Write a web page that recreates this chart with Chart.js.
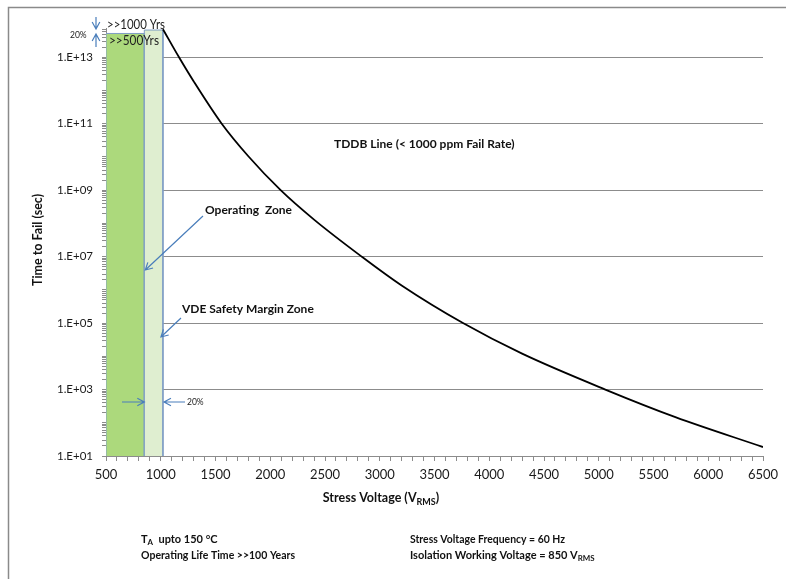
<!DOCTYPE html>
<html>
<head>
<meta charset="utf-8">
<script src="https://cdn.jsdelivr.net/npm/chart.js@4.4.1/dist/chart.umd.min.js"></script>
<style>
  html, body { margin: 0; padding: 0; background: #fff; }
</style>
</head>
<body>
<canvas id="tddb-chart" width="786" height="579"></canvas>
<script>
// TDDB curve (V_RMS vs seconds)
const voltage = [1020, 1167, 1300, 1557, 1800, 2095, 2400, 2835, 3200, 3760, 4300, 5060, 5700, 6500];
const timeToFail = [7e13, 1e13, 1.9e12, 1e11, 1.05e10, 1e9, 1.3e8, 1e7, 1.35e6, 1e5, 1.2e4, 1e3, 148, 18.6];

// shaded zones: operating zone and VDE safety margin
const zoneNames = ["Operating Zone", "VDE Safety Margin Zone"];
const zoneFrom = [500, 850];
const zoneTo = [850, 1020];
const zoneTop = [5.2e13, 6.6e13];

const xTickLabels = [500, 1000, 1500, 2000, 2500, 3000, 3500, 4000, 4500, 5000, 5500, 6000, 6500];
const yTickValues = [1e1, 1e3, 1e5, 1e7, 1e9, 1e11, 1e13];
const yTickLabels = ["1.E+01", "1.E+03", "1.E+05", "1.E+07", "1.E+09", "1.E+11", "1.E+13"];

const FONT = "Lato, 'Open Sans', sans-serif";
const AXIS_GRAY = "#8c8c8c";
const ARROW_BLUE = "#4a7ebb";

function zonePoints(i) {
  return [
    { x: zoneFrom[i], y: 10 },
    { x: zoneFrom[i], y: zoneTop[i] },
    { x: zoneTo[i], y: zoneTop[i] },
    { x: zoneTo[i], y: 10 },
  ];
}

function put(ctx, str, x, y, size, bold, align, maxW) {
  ctx.font = (bold ? "bold " : "") + size + "px " + FONT;
  ctx.textAlign = align || "left";
  ctx.textBaseline = "middle";
  if (maxW) ctx.fillText(str, x, y, maxW);
  else ctx.fillText(str, x, y);
}

// text runs with subscripts: [[text, isSub], ...]
function putRuns(ctx, runs, x, y, size, bold, align) {
  const w = runs.map(([t, sub]) => {
    ctx.font = (bold ? "bold " : "") + (sub ? size * 0.72 : size) + "px " + FONT;
    return ctx.measureText(t).width;
  });
  const total = w.reduce((a, b) => a + b, 0);
  let cx = align === "center" ? x - total / 2 : x;
  runs.forEach(([t, sub], i) => {
    put(ctx, t, cx, sub ? y + size * 0.3 : y, sub ? size * 0.72 : size, bold, "left");
    cx += w[i];
  });
}

function arrow(ctx, x1, y1, x2, y2) {
  const a = Math.atan2(y2 - y1, x2 - x1);
  const h = 8, s = 0.5;
  ctx.beginPath();
  ctx.moveTo(x1, y1);
  ctx.lineTo(x2, y2);
  ctx.moveTo(x2 - h * Math.cos(a - s), y2 - h * Math.sin(a - s));
  ctx.lineTo(x2, y2);
  ctx.lineTo(x2 - h * Math.cos(a + s), y2 - h * Math.sin(a + s));
  ctx.stroke();
}

const overlay = {
  id: "overlay",
  beforeDraw(chart) {
    const ctx = chart.ctx;
    ctx.save();
    ctx.fillStyle = "#fff";
    ctx.fillRect(0, 0, chart.width, chart.height);
    ctx.strokeStyle = "#8a8a8a";
    ctx.lineWidth = 1.5;
    ctx.strokeRect(8.5, 7.5, 900, 700);
    ctx.restore();
  },
  afterDraw(chart) {
    const ctx = chart.ctx;
    const xs = chart.scales.x;
    ctx.save();
    ctx.fillStyle = "#111";

    // axis titles
    ctx.save();
    ctx.translate(38, 240);
    ctx.rotate(-Math.PI / 2);
    put(ctx, "Time to Fail (sec)", 0, 0, 12.5, true, "center", 104);
    ctx.restore();
    putRuns(ctx, [["Stress Voltage (V", false], ["RMS", true], [")", false]], 381, 498, 12.5, true, "center");

    // annotations in the plot
    put(ctx, "TDDB Line (< 1000 ppm Fail Rate)", 334, 144, 12, true, "left", 184);
    put(ctx, "Operating  Zone", 205, 210, 12, true, "left", 88);
    put(ctx, "VDE Safety Margin Zone", 182, 309, 12, true, "left", 133);
    ctx.fillStyle = "#222";
    put(ctx, ">>1000 Yrs", 107, 25, 12.5, false, "left", 58);
    put(ctx, ">>500Yrs", 109, 41, 13, false, "left", 50);
    put(ctx, "20%", 70, 35, 8.5, false, "left");
    put(ctx, "20%", 187, 402, 8.5, false, "left");

    // arrows
    ctx.strokeStyle = ARROW_BLUE;
    ctx.lineWidth = 1.2;
    const xOp = xs.getPixelForValue(zoneTo[0]);
    const xVde = xs.getPixelForValue(zoneTo[1]);
    arrow(ctx, 203, 216, xOp + 1, 270);
    arrow(ctx, 181, 318, xVde - 2, 337);
    arrow(ctx, 122, 402, xOp, 402);
    arrow(ctx, 185, 402, xVde + 1, 402);
    arrow(ctx, 96, 17, 96, 29);
    arrow(ctx, 96, 47, 96, 34);

    // notes under the chart
    ctx.fillStyle = "#111";
    putRuns(ctx, [["T", false], ["A", true], ["  upto 150 \u00B0C", false]], 141, 539, 11, true, "left");
    put(ctx, "Operating Life Time >>100 Years", 141, 555, 11, true, "left", 154);
    put(ctx, "Stress Voltage Frequency = 60 Hz", 410, 539, 11, true, "left", 155);
    putRuns(ctx, [["Isolation Working Voltage = 850 V", false], ["RMS", true]], 410, 555, 11, true, "left");
    ctx.restore();
  },
};

Chart.defaults.font.family = FONT;

const ctx = document.getElementById("tddb-chart").getContext("2d");
new Chart(ctx, {
  type: "scatter",
  data: {
    datasets: [
      {
        label: "TDDB Line",
        data: voltage.map((v, i) => ({ x: v, y: timeToFail[i] })),
        showLine: true,
        borderColor: "#000",
        borderWidth: 1.8,
        pointRadius: 0,
        cubicInterpolationMode: "monotone",
        fill: false,
        order: 0,
      },
      {
        label: zoneNames[1],
        data: zonePoints(1),
        showLine: true,
        borderColor: "#7f9dc4",
        borderWidth: 1,
        backgroundColor: "#dfeed0",
        pointRadius: 0,
        fill: "start",
        order: 1,
      },
      {
        label: zoneNames[0],
        data: zonePoints(0),
        showLine: true,
        borderColor: "#7f9dc4",
        borderWidth: 1,
        backgroundColor: "#acd97c",
        pointRadius: 0,
        fill: "start",
        order: 2,
      },
    ],
  },
  options: {
    responsive: false,
    animation: false,
    layout: { padding: { left: 0, top: 28, right: 23, bottom: 93 } },
    scales: {
      x: {
        type: "linear",
        min: 500,
        max: 6500,
        afterFit: (s) => { s.height = 30; },
        afterBuildTicks: (s) => {
          const t = [];
          for (let v = 500; v <= 6500; v += 100) t.push({ value: v });
          s.ticks = t;
        },
        ticks: {
          autoSkip: false,
          maxRotation: 0,
          padding: 6,
          color: "#1a1a1a",
          font: { size: 13 },
          callback: (v) => (xTickLabels.includes(v) ? String(v) : ""),
        },
        grid: { drawOnChartArea: false, tickLength: 5, tickColor: AXIS_GRAY },
        border: { color: AXIS_GRAY, width: 1 },
      },
      y: {
        type: "logarithmic",
        min: 10,
        max: 7.6e13,
        afterFit: (s) => { s.width = 106; },
        afterBuildTicks: (s) => {
          const t = [];
          for (let n = 1; n <= 13; n++) {
            for (let k = 1; k <= 9; k++) {
              const v = k * 10 ** n;
              if (v <= 7.6e13) t.push({ value: v });
            }
          }
          s.ticks = t;
        },
        ticks: {
          autoSkip: false,
          padding: 9,
          color: "#1a1a1a",
          font: { size: 11.5 },
          callback: (v) => {
            const i = yTickValues.indexOf(v);
            return i >= 0 ? yTickLabels[i] : "";
          },
        },
        grid: {
          color: (c) => (c.tick && yTickValues.includes(c.tick.value) && c.tick.value > 10 ? AXIS_GRAY : "rgba(0,0,0,0)"),
          tickColor: AXIS_GRAY,
          tickLength: 4,
          lineWidth: 1,
        },
        border: { color: AXIS_GRAY, width: 1 },
      },
    },
    plugins: {
      legend: { display: false },
      tooltip: { enabled: false },
      title: { display: false },
    },
  },
  plugins: [overlay],
});
</script>
</body>
</html>
